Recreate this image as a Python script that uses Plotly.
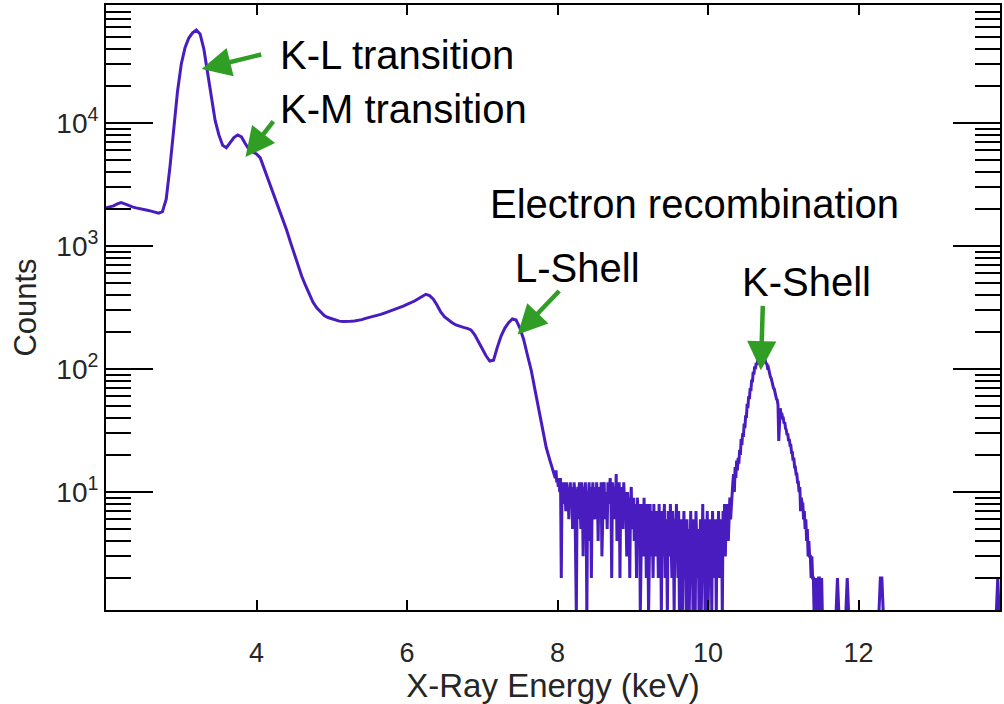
import numpy as np
import plotly.graph_objects as go

# ---------------- data ----------------
# Smooth part of the spectrum, 2.00 .. 7.95 keV, 0.05 keV bins
smooth_start, smooth_step = 2.00, 0.05
smooth_counts = [
    2040, 2080, 2120, 2200, 2250, 2200, 2130, 2080, 2040, 2000,
    1980, 1950, 1920, 1880, 1850, 1900, 2400, 4400, 9000, 18000,
    30000, 41000, 49000, 54000, 57000, 53000, 40000, 26000, 15500, 10500,
    8000, 6600, 6300, 7000, 7600, 8000, 7700, 6800, 6100, 5800,
    5600, 5200, 4300, 3600, 3000, 2450, 2000, 1650, 1350, 1080,
    870, 700, 570, 480, 410, 350, 315, 290, 272, 262,
    255, 250, 245, 243, 242, 244, 246, 248, 252, 258,
    262, 267, 272, 278, 285, 292, 300, 310, 318, 325,
    335, 345, 357, 372, 390, 405, 395, 370, 330, 290,
    265, 250, 238, 228, 222, 218, 214, 208, 190, 165,
    145, 128, 116, 118, 150, 185, 215, 238, 255, 250,
    215, 174, 130, 98, 68, 47, 32, 23, 18, 14,
]

# Noisy plateau, 7.96 .. 10.31 keV, 0.01 keV bins
noisy_start, noisy_step = 7.96, 0.01
noisy_counts = [
    14, 13, 15, 12, 13, 11, 12, 10, 13, 2, 11, 9, 12, 8, 10,
    7, 12, 9, 11, 6, 10, 12, 8, 11, 5, 9, 12, 10, 4, 1, 9, 11, 6, 12, 8,
    5, 12, 10, 3, 11, 8, 12, 7, 1, 10, 9, 12, 4, 11, 2, 9, 12, 6, 10, 11,
    6, 12, 9, 4, 11, 10, 7, 12, 3, 8, 11, 12, 6, 9, 10, 5, 12, 8, 11, 13,
    9, 2, 12, 10, 6, 11, 8, 14, 4, 10, 9, 12, 2, 11, 7, 9, 5, 12, 8, 10,
    7, 3, 10, 6, 9, 2, 8, 11, 5, 7, 9, 4, 8, 6, 2, 9, 7, 4, 8, 1,
    6, 8, 5, 3, 9, 4, 7, 2, 8, 5, 1, 6, 8, 3, 7, 5, 2, 8, 4, 6,
    3, 7, 5, 2, 8, 4, 6, 1, 7, 3, 5, 8, 2, 6, 4, 1, 7, 5, 3, 8,
    4, 2, 7, 5, 1, 6, 3, 8, 4, 2, 7, 1, 5, 3, 6, 1, 4, 7, 2, 5,
    1, 6, 3, 5, 1, 4, 7, 2, 5, 1, 6, 3, 1, 7, 4, 2, 5, 1, 3, 6,
    1, 4, 8, 2, 5, 1, 6, 3, 7, 1, 4, 6, 2, 5, 1, 7, 3, 6, 2, 5,
    1, 6, 4, 7, 2, 5, 3, 6, 1, 7, 4, 8, 3, 6, 5, 8, 4, 7, 9, 6, 8,
]

# K-shell recombination peak, 10.32 .. 11.52 keV, 0.01 keV bins
peak_start, peak_step = 10.32, 0.01
peak_counts = [
    8, 12, 14, 10, 16, 13, 18, 15, 19, 17,
    22, 20, 27, 24, 30, 28, 36, 33, 42, 40,
    52, 48, 60, 57, 70, 66, 82, 78, 95, 90,
    105, 100, 112, 108, 118, 112, 122, 116, 120, 114,
    121, 117, 124, 116, 119, 110, 112, 103, 104, 96,
    92, 86, 84, 78, 76, 70, 69, 63, 62, 57,
    56, 51, 26, 47, 48, 43, 44, 40, 40, 36,
    37, 33, 32, 29, 30, 26, 27, 24, 24, 21,
    21, 18, 19, 16, 16, 14, 14, 12, 12, 10,
    11, 7, 9, 8, 8, 6, 7, 5, 6, 4,
    5, 3, 4, 3, 3, 2, 3, 2, 2, 1,
    2, 1, 2, 1, 1, 2, 2, 1, 1, 2, 1,
]

# Isolated single-count spikes in the high-energy tail
tail_spikes_energy = [[11.70, 11.72, 11.74], [11.83, 11.85, 11.87],
                      [12.27, 12.29, 12.31, 12.33], [13.83, 13.85, 13.87]]
tail_spikes_counts = [[1, 2, 1], [1, 2, 1], [1, 2, 2, 1], [1, 2, 1]]

x_ticks = [4, 6, 8, 10, 12]
y_ticks = [10, 100, 1000, 10000]
y_ticktext = ["10<sup>1</sup>", "10<sup>2</sup>", "10<sup>3</sup>", "10<sup>4</sup>"]
y_minor = [m * 10 ** k for k in range(0, 5) for m in range(2, 10)]

# annotations: (text, x keV, log10 y) for labels
labels = [
    ("K-L transition", 4.28, 4.55),
    ("K-M transition", 4.28, 4.11),
    ("Electron recombination", 7.07, 3.34),
    ("L-Shell", 7.41, 2.82),
    ("K-Shell", 10.42, 2.71),
]
# arrows: head (x keV, log10 y), tail offset in px
arrows = [
    (3.272, 4.438, 61, -15),
    (3.854, 3.724, 29, -37),
    (7.470, 2.281, 43, -45),
    (10.702, 1.989, 2, -66),
]

# ---------------- build series ----------------
xs, ys = [], []
for start, step, counts in [(smooth_start, smooth_step, smooth_counts),
                            (noisy_start, noisy_step, noisy_counts),
                            (peak_start, peak_step, peak_counts)]:
    e = np.round(start + step * np.arange(len(counts)), 3)
    xs += list(e)
    ys += counts
for ee, cc in zip(tail_spikes_energy, tail_spikes_counts):
    xs.append(None); ys.append(None)
    xs += ee; ys += cc

LINE = "rgb(72,28,190)"
GREEN = "rgb(48,158,36)"
GRAY = "rgb(38,38,38)"
FONT = "Liberation Sans, Arial, sans-serif"

fig = go.Figure()
fig.add_trace(go.Scatter(x=xs, y=ys, mode="lines",
                         line=dict(color=LINE, width=3),
                         connectgaps=False, showlegend=False, hoverinfo="skip"))

fig.update_layout(
    width=1004, height=704,
    margin=dict(l=106, r=2, t=5, b=94),
    paper_bgcolor="white", plot_bgcolor="white",
    font=dict(family=FONT, color=GRAY),
)
fig.update_xaxes(
    range=[2.0, 13.88], tickvals=x_ticks,
    ticks="inside", ticklen=10, tickwidth=2, tickcolor="black",
    showline=True, linecolor="black", linewidth=2, mirror="allticks",
    showgrid=False, zeroline=False, ticklabelstandoff=18,
    tickfont=dict(size=27, color=GRAY, family=FONT),
    title=dict(text="X-Ray Energy (keV)", font=dict(size=33, color=GRAY, family=FONT), standoff=8),
)
fig.update_yaxes(
    type="log", range=[0.041, 4.959], tickvals=y_ticks, ticktext=y_ticktext,
    ticks="inside", ticklen=47, tickwidth=2, tickcolor="black",
    minor=dict(ticks="inside", ticklen=25, tickwidth=2, tickcolor="black", tickvals=y_minor),
    showline=True, linecolor="black", linewidth=2, mirror="allticks",
    showgrid=False, zeroline=False,
    tickfont=dict(size=28, color=GRAY, family=FONT),
    title=dict(text="Counts", font=dict(size=31, color=GRAY, family=FONT), standoff=10),
)

for txt, xv, yv in labels:
    fig.add_annotation(x=xv, y=yv, xref="x", yref="y", text=txt, showarrow=False,
                       xanchor="left", yanchor="middle",
                       font=dict(size=40, color="black", family=FONT))
for hx, hy, axp, ayp in arrows:
    fig.add_annotation(x=hx, y=hy, xref="x", yref="y", text="", showarrow=True,
                       ax=axp, ay=ayp, arrowhead=2, arrowsize=1.3, arrowwidth=4.5,
                       arrowcolor=GREEN, standoff=0)

fig.write_html("out.html")
